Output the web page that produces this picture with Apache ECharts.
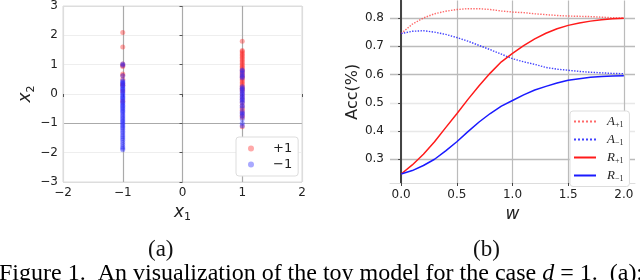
<!DOCTYPE html>
<html><head><meta charset="utf-8">
<script src="https://cdn.jsdelivr.net/npm/echarts@6/dist/echarts.min.js"></script>
<style>html,body{margin:0;padding:0;background:#fff}#c{width:640px;height:280px}</style>
</head><body><div id="c"></div>
<script>
// ---------- data: panel (a) ----------
var clusterLeftX = -1;
var clusterRightX = 1;
var leftRedY = [2.1, 1.6, 1.02, 0.97, 0.94, 0.68, 0.63, 0.5, 0.35, 0.3, 0.1, -0.25];
var leftBlueY = [1.02, 0.98, 0.62, 0.46, 0.42, 0.38, 0.35, 0.3, 0.27, 0.22, 0.18, 0.15, 0.1, 0.05, 0.02, -0.03, -0.08, -0.12, -0.15, -0.2, -0.25, -0.3, -0.33, -0.38, -0.42, -0.47, -0.5, -0.55, -0.6, -0.64, -0.7, -0.75, -0.8, -0.85, -0.9, -0.95, -1.0, -1.05, -1.1, -1.15, -1.2, -1.27, -1.33, -1.4, -1.46, -1.52, -1.58, -1.65, -1.72, -1.8, -1.85, -1.9];
var rightRedY = [1.8, 1.48, 1.45, 1.4, 1.35, 1.3, 1.25, 1.2, 1.15, 1.1, 1.05, 1.0, 0.95, 0.9, 0.85, 0.8, 0.75, 0.7, 0.65, 0.6, 0.55, 0.5, 0.45, 0.4, 0.35, 0.3, 0.25, 0.2, 0.15, 0.1, 0.0, -0.1, -0.2, -0.3, -0.4, -0.5, -0.55, -0.65, -0.75, -0.8, -1.12];
var rightBlueY = [0.82, 0.78, 0.72, 0.65, 0.6, 0.55, 0.25, 0.2, 0.15, 0.1, 0.05, 0.0, -0.05, -0.1, -0.15, -0.2, -0.25, -0.3, -0.4, -0.45, -0.6, -0.65, -0.7, -0.75, -0.85, -1.0, -1.08];

// ---------- data: panel (b) ----------
var wValues = [0.0, 0.1, 0.2, 0.3, 0.4, 0.5, 0.6, 0.7, 0.8, 0.9, 1.0, 1.1, 1.2, 1.3, 1.4, 1.5, 1.6, 1.7, 1.8, 1.9, 2.0];
var accAPlus  = [0.745, 0.778, 0.800, 0.815, 0.824, 0.830, 0.833, 0.833, 0.830, 0.825, 0.821, 0.819, 0.815, 0.812, 0.809, 0.807, 0.806, 0.805, 0.803, 0.801, 0.800];
var accAMinus = [0.745, 0.753, 0.755, 0.750, 0.742, 0.731, 0.718, 0.703, 0.688, 0.672, 0.656, 0.645, 0.636, 0.625, 0.619, 0.615, 0.611, 0.608, 0.606, 0.604, 0.603];
var accRPlus  = [0.248, 0.280, 0.318, 0.362, 0.412, 0.461, 0.512, 0.560, 0.605, 0.645, 0.675, 0.702, 0.726, 0.746, 0.762, 0.774, 0.782, 0.789, 0.794, 0.797, 0.799];
var accRMinus = [0.248, 0.260, 0.278, 0.300, 0.330, 0.362, 0.398, 0.432, 0.462, 0.488, 0.508, 0.528, 0.545, 0.558, 0.570, 0.580, 0.585, 0.590, 0.593, 0.595, 0.596];
var bXTicks = [0, 0.5, 1, 1.5, 2];
var bYTicks = [0.3, 0.4, 0.5, 0.6, 0.7, 0.8];
var legendA = ['+1', '\u22121'];
var legendB = ['A+1', 'A-1', 'R+1', 'R-1'];

function pts(x, ys) { return ys.map(function (y) { return [x, y]; }); }
function zip(xs, ys) { return xs.map(function (x, i) { return [x, ys[i]]; }); }
function minus(v) { return String(v).replace('-', '\u2212'); }

var SANS = 'DejaVu Sans';
var tickText = { fontFamily: SANS, fontSize: 12, color: '#222' };
var legendLabelMap = {
  'A+1': '{c|A}{s|+1}', 'A-1': '{c|A}{s|\u22121}',
  'R+1': '{c|R}{s|+1}', 'R-1': '{c|R}{s|\u22121}'
};
var subRich = { i: { fontFamily: SANS, fontStyle: 'italic', fontSize: 17, color: '#222' },
                s: { fontFamily: SANS, fontSize: 11, color: '#222', padding: [10, 0, 0, 0] } };

var chart = echarts.init(document.getElementById('c'), null, { renderer: 'canvas' });
chart.setOption({
  animation: false,
  backgroundColor: '#fff',
  grid: [
    { left: 63, top: 3, width: 239, height: 179, show: true, borderColor: '#ddd', borderWidth: 1, backgroundColor: 'transparent' },
    { left: 390, top: 0.5, width: 245, height: 182.5 }
  ],
  xAxis: [
    { gridIndex: 0, type: 'value', min: -2, max: 2, interval: 1,
      axisLine: { show: false }, axisTick: { show: true, length: 3, lineStyle: { color: '#555' } },
      axisLabel: Object.assign({ margin: 5, formatter: function (v) { return minus(v); } }, tickText),
      splitLine: { show: true, lineStyle: { color: ['#ddd', '#aaa', '#aaa', '#aaa', '#ddd'], width: 1.2 } },
      name: '{i|x}{s|1}', nameLocation: 'middle', nameGap: 20, nameTextStyle: { rich: subRich } },
    { gridIndex: 1, type: 'value', min: -0.1, max: 2.1,
      axisLine: { show: true, lineStyle: { color: '#ddd', width: 1 } },
      axisTick: { show: true, length: 3, customValues: bXTicks, lineStyle: { color: '#444' } },
      axisLabel: Object.assign({ margin: 6, customValues: bXTicks, formatter: function (v) { return v.toFixed(1); } }, tickText),
      splitLine: { show: true, lineStyle: { color: '#bbb', width: 1.2 } },
      name: 'w', nameLocation: 'middle', nameGap: 18,
      nameTextStyle: { fontFamily: SANS, fontStyle: 'italic', fontSize: 17, color: '#222' } }
  ],
  yAxis: [
    { gridIndex: 0, type: 'value', min: -3, max: 3, interval: 1,
      axisLine: { show: false }, axisTick: { show: true, length: 3, lineStyle: { color: '#555' } },
      axisLabel: Object.assign({ margin: 5, formatter: function (v) { return minus(v); } }, tickText),
      splitLine: { show: true, lineStyle: { color: ['#ddd', '#eee', '#aaa', '#eee', '#eee', '#eee', '#ddd'], width: 1.2 } },
      name: '{i|x}{s|2}', nameLocation: 'middle', nameGap: 25, nameRotate: 90, nameTextStyle: { rich: subRich } },
    { gridIndex: 1, type: 'value', min: 0.216, max: 0.862,
      axisLine: { show: true, lineStyle: { color: '#444', width: 2 } },
      axisTick: { show: true, length: 3, customValues: bYTicks, lineStyle: { color: '#444' } },
      axisLabel: Object.assign({ margin: 6, customValues: bYTicks, formatter: function (v) { return v.toFixed(1); } }, tickText),
      splitLine: { show: true, lineStyle: { color: ['#bbb', '#e8e8e8', '#e8e8e8', '#bbb', '#bbb', '#bbb'], width: 1.3 } },
      name: 'Acc(%)', nameLocation: 'middle', nameGap: 21, nameRotate: 90,
      nameTextStyle: { fontFamily: SANS, fontSize: 16, color: '#222' } }
  ],
  legend: [
    { data: legendA, orient: 'vertical', left: 236, top: 137,
      padding: [5, 6, 5, 12], itemGap: 3, itemWidth: 6, itemHeight: 6,
      backgroundColor: '#fff', borderColor: '#ddd', borderWidth: 1, borderRadius: 3,
      textStyle: { fontFamily: SANS, fontSize: 13, color: '#222', padding: [0, 0, 0, 14] } },
    { data: legendB, orient: 'vertical', left: 570, top: 111,
      padding: [4, 6, 4, 3], itemGap: 4.5, itemWidth: 22, itemHeight: 12,
      backgroundColor: '#fff', borderColor: '#ddd', borderWidth: 1, borderRadius: 3,
      itemStyle: { color: 'rgba(0,0,0,0)', borderWidth: 0 },
      formatter: function (n) { return legendLabelMap[n]; },
      textStyle: { padding: [0, 0, 0, 6], rich: {
        c: { fontFamily: 'Liberation Serif', fontStyle: 'italic', fontSize: 13, color: '#222' },
        s: { fontFamily: 'Liberation Serif', fontSize: 8, color: '#222', padding: [6, 0, 0, 0] } } } }
  ],
  series: [
    { name: '+1', type: 'scatter', xAxisIndex: 0, yAxisIndex: 0, symbolSize: 5,
      itemStyle: { color: 'rgba(255,40,40,0.5)' }, data: pts(clusterLeftX, leftRedY).concat(pts(clusterRightX, rightRedY)) },
    { name: '\u22121', type: 'scatter', xAxisIndex: 0, yAxisIndex: 0, symbolSize: 5,
      itemStyle: { color: 'rgba(40,40,255,0.5)' }, data: pts(clusterLeftX, leftBlueY).concat(pts(clusterRightX, rightBlueY)) },
    { name: 'A+1', type: 'line', xAxisIndex: 1, yAxisIndex: 1, symbol: 'none',
      lineStyle: { color: '#ff4444', width: 1.4, type: 'dotted', opacity: 0.8 }, itemStyle: { color: '#ff4444' }, data: zip(wValues, accAPlus) },
    { name: 'A-1', type: 'line', xAxisIndex: 1, yAxisIndex: 1, symbol: 'none',
      lineStyle: { color: '#2020ff', width: 1.4, type: 'dotted', opacity: 0.85 }, itemStyle: { color: '#2020ff' }, data: zip(wValues, accAMinus) },
    { name: 'R+1', type: 'line', xAxisIndex: 1, yAxisIndex: 1, symbol: 'none',
      lineStyle: { color: '#ff1a1a', width: 1.5 }, itemStyle: { color: '#ff1a1a' }, data: zip(wValues, accRPlus) },
    { name: 'R-1', type: 'line', xAxisIndex: 1, yAxisIndex: 1, symbol: 'none',
      lineStyle: { color: '#1a1aff', width: 1.5 }, itemStyle: { color: '#1a1aff' }, data: zip(wValues, accRMinus) }
  ],
  graphic: [
    { type: 'text', left: 148, top: 238, style: { text: '(a)', font: '23px "Liberation Serif"', fill: '#111' } },
    { type: 'text', left: 473, top: 238, style: { text: '(b)', font: '23px "Liberation Serif"', fill: '#111' } },
    { type: 'text', left: -1, top: 262, style: {
        text: '{n|Figure 1.  An visualization of the toy model for the case }{i|d}{n| = 1.  (a):}',
        rich: { n: { fontFamily: 'Liberation Serif', fontSize: 24, color: '#111' },
                i: { fontFamily: 'Liberation Serif', fontStyle: 'italic', fontSize: 24, color: '#111' } } } }
  ]
});
</script></body></html>
